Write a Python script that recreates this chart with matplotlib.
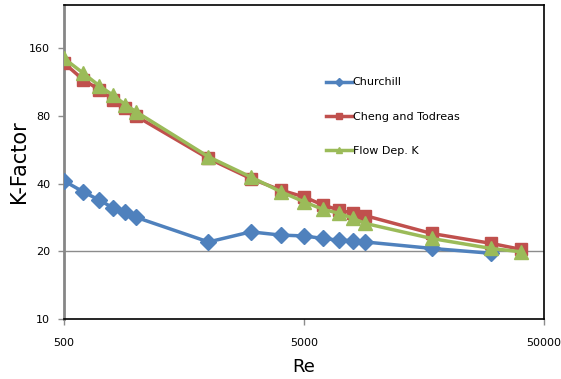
import numpy as np
import matplotlib.pyplot as plt
from matplotlib.ticker import FixedLocator, NullLocator

re = [500, 600, 700, 800, 900, 1000, 2000, 3000, 4000, 5000, 6000, 7000, 8000, 9000, 17000, 30000, 40000]
k_churchill = [41.1, 36.8, 33.8, 31.2, 29.8, 28.3, 22.0, 24.4, 23.6, 23.4, 22.8, 22.4, 22.3, 22.0, 20.6, 19.6]
k_cheng = [137.4, 115.9, 104.7, 94.5, 86.5, 79.7, 51.7, 42.1, 37.4, 34.9, 32.1, 30.5, 29.5, 28.8, 24.0, 21.7, 20.4]
k_flow = [144, 124, 109, 98.8, 89.8, 83.3, 52.6, 42.8, 36.8, 33.2, 30.7, 29.5, 28.0, 26.6, 22.8, 20.6, 19.9]

x_ticks = [500, 5000, 50000]
y_ticks = [10, 20, 40, 80, 160]

fig = plt.figure(figsize=(5.61, 3.79), dpi=100)
ax = fig.add_axes([64 / 561, 1 - 319 / 379, 480 / 561, 314.5 / 379])

ax.axhline(20, color="#8c8c8c", lw=1, zorder=1)

ax.plot(re[:len(k_churchill)], k_churchill, color="#4F81BD", lw=2.5, marker="D", ms=8,
        label="Churchill", zorder=3)
ax.plot(re, k_cheng, color="#C0504D", lw=2.5, marker="s", ms=8.5,
        label="Cheng and Todreas", zorder=4)
ax.plot(re, k_flow, color="#9BBB59", lw=2.5, marker="^", ms=9.5,
        label="Flow Dep. K", zorder=5)

ax.set_xscale("log")
ax.set_yscale("log", base=2)
ax.set_xlim(500, 50000)
ax.set_ylim(10, 250)

ax.xaxis.set_major_locator(FixedLocator(x_ticks))
ax.xaxis.set_minor_locator(NullLocator())
ax.yaxis.set_major_locator(FixedLocator(y_ticks))
ax.yaxis.set_minor_locator(NullLocator())
ax.set_xticklabels([str(t) for t in x_ticks])
ax.set_yticklabels([str(t) for t in y_ticks])
ax.tick_params(axis="both", labelsize=8, length=4, width=1, color="#8c8c8c", pad=6)
ax.tick_params(axis="x", pad=10)

ax.spines["left"].set_color("#868686")
ax.spines["left"].set_linewidth(2)
for s in ["top", "right", "bottom"]:
    ax.spines[s].set_color("black")
    ax.spines[s].set_linewidth(1.2)

ax.set_xlabel("Re", fontsize=13, labelpad=7)
ax.set_ylabel("K-Factor", fontsize=15, labelpad=0)

leg = ax.legend(loc="upper left", bbox_to_anchor=(0.525, 0.8), frameon=False, fontsize=8,
                labelspacing=2.2, handlelength=2.3, handletextpad=0.1, markerscale=0.5)

fig.savefig("out.png", dpi=100)
